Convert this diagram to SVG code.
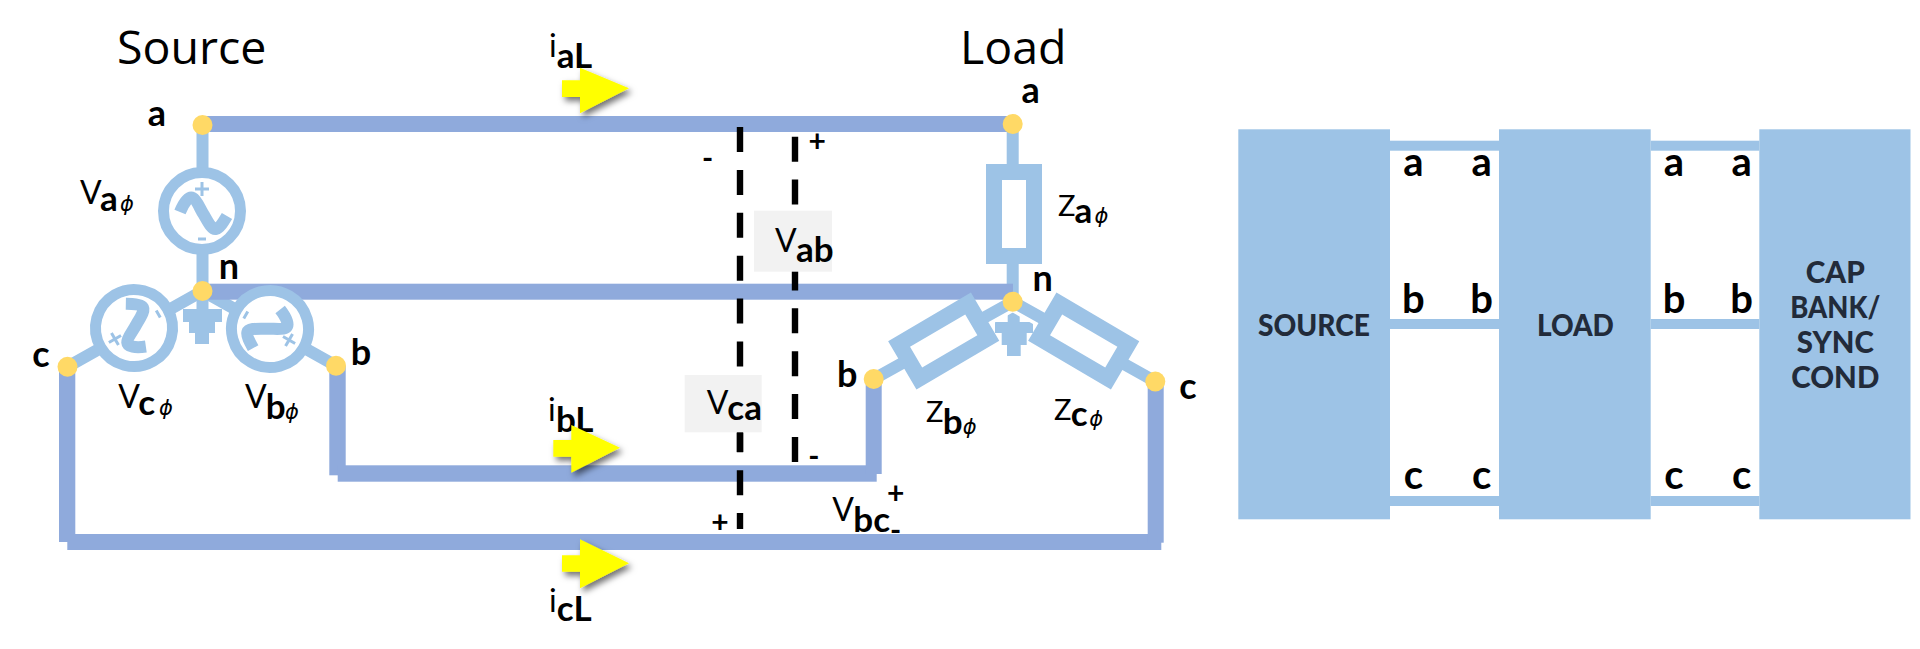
<svg xmlns="http://www.w3.org/2000/svg" width="1920" height="649" viewBox="0 0 1920 649">
<style>
.wire{fill:#8faadc}
.stub{stroke:#9dc3e6;stroke-width:12;fill:none}
.ring{fill:#fff;stroke:#9dc3e6;stroke-width:11}
.res{fill:#fff;stroke:#9dc3e6;stroke-width:16}
.lb{fill:#9dc3e6}
.dot{fill:#ffd966}
.dash{stroke:#000;stroke-width:6.4;stroke-dasharray:25 17.9;fill:none}
.wave{fill:none;stroke:#9dc3e6;stroke-width:12}
.sign{fill:none;stroke:#9dc3e6;stroke-width:3}
.box{fill:#f2f2f2}
text{font-family:Lato,"Liberation Sans",sans-serif;fill:#000;font-weight:700}
.big{font-family:"Open Sans","Liberation Sans",sans-serif;font-size:46.500px;font-weight:400}
.l32{font-size:36px}
.l36{font-size:40px}
.m{text-anchor:middle}
.v{font-size:32px;font-weight:400}
.z{font-size:29px;font-weight:400}
.s{font-size:35px}
.ph{font-family:"DejaVu Sans",sans-serif;font-size:21px;font-style:italic;font-weight:400}
.blk{font-size:31px;fill:#222b3a;text-anchor:middle;font-weight:900}
.pm{font-size:30px;text-anchor:middle}
.arrow{fill:#ffff00;filter:url(#sh)}
</style>
<defs>
<filter id="sh" x="-30%" y="-30%" width="170%" height="170%"><feDropShadow dx="3" dy="4" stdDeviation="3" flood-color="#000" flood-opacity=".55"/></filter>
<g id="src"><circle class="ring" r="38.5"/><path class="wave" d="M-22 1C-18-9-13-15-9-13C-5-11-2-2 2 4C6 11 10 19 14 18C18 17 22 10 25 5"/><path class="sign" d="M-7-22H7M0-29V-15M-4 28H4"/></g>
</defs>

<g id="load-ground"><path class="lb" d="M995 322H1033V333H1026.700V345H1020.700V356H1007V345H1001.700V333H995Z"/><path d="M1013.700 300V322" class="stub"/></g>

<g id="connectors">
<path class="stub" d="M202.500 125V291M202.500 291L67.500 366.700M202.500 291L336 365.700M1012.700 124V301.700"/>
<path d="M1012.700 301.700L873.700 379M1012.700 301.700L1155.300 381.500" fill="none" stroke="#fff" stroke-width="19"/>
<path class="stub" d="M1012.700 301.700L873.700 379M1012.700 301.700L1155.300 381.500"/>
<rect class="wire" x="202" y="116" width="811" height="16"/>
<rect class="wire" x="202" y="283.700" width="811" height="16"/>
<rect class="wire" x="329.300" y="366" width="16.400" height="109.300"/>
<rect class="wire" x="337.700" y="465.300" width="539" height="16.400"/>
<rect class="wire" x="865.700" y="380" width="16" height="94"/>
<rect class="wire" x="59" y="367" width="16.300" height="175"/>
<rect class="wire" x="67.300" y="534" width="1094" height="16"/>
<rect class="wire" x="1147.700" y="382" width="16" height="160.700"/>
<path class="dash" d="M740 127V529"/>
<path class="dash" d="M795 136.700V462"/>
<rect class="lb" x="1390" y="140.700" width="109" height="10"/>
<rect class="lb" x="1390" y="319" width="109" height="10"/>
<rect class="lb" x="1390" y="496" width="109" height="10"/>
<rect class="lb" x="1650.700" y="140.700" width="108.600" height="10"/>
<rect class="lb" x="1650.700" y="319" width="108.600" height="10"/>
<rect class="lb" x="1650.700" y="496" width="108.600" height="10"/>
</g>

<g id="source-a"><use href="#src" x="202" y="211"/></g>
<g id="source-b"><use href="#src" transform="translate(270 329) rotate(120)"/></g>
<g id="source-c"><use href="#src" transform="translate(134 328) rotate(-120)"/></g>
<g id="source-ground"><path class="stub" d="M202.500 291V310"/><path class="lb" d="M183 309H222V322H215V333H209V344H195V333H189V322H183Z"/></g>
<g id="load-a"><rect class="res" x="994" y="172" width="40" height="84"/></g>
<g id="load-b"><rect class="res" x="-40" y="-20" width="80" height="40" transform="translate(943.700 341) rotate(-30.400)"/></g>
<g id="load-c"><rect class="res" x="-40" y="-20" width="80" height="40" transform="translate(1083.700 341) rotate(30.400)"/></g>

<g id="terminals">
<circle class="dot" cx="202.500" cy="125" r="10"/>
<circle class="dot" cx="202.500" cy="291" r="10"/>
<circle class="dot" cx="67.500" cy="366.700" r="10"/>
<circle class="dot" cx="336" cy="365.700" r="10"/>
<circle class="dot" cx="1012.700" cy="124" r="10"/>
<circle class="dot" cx="1012.700" cy="301.700" r="10"/>
<circle class="dot" cx="873.700" cy="379" r="10"/>
<circle class="dot" cx="1155.300" cy="381.500" r="10"/>
</g>

<g id="voltage-boxes">
<rect class="box" x="754" y="210.700" width="78" height="61"/>
<rect class="box" x="684.700" y="375" width="77" height="57.300"/>
<rect x="736.800" y="433" width="6.400" height="19"/>
</g>

<g id="labels">
<text class="big" x="117" y="63.500">Source</text>
<text class="big" x="960" y="63.500">Load</text>
<text class="l32 m" x="157" y="126">a</text>
<text class="l32 m" x="229" y="279">n</text>
<text class="l32 m" x="41" y="366.700">c</text>
<text class="l32 m" x="361" y="365">b</text>
<text class="l32 m" x="1030.700" y="103.300">a</text>
<text class="l32 m" x="1042.700" y="290.700">n</text>
<text class="l32 m" x="847.300" y="387.300">b</text>
<text class="l32 m" x="1188" y="399.300">c</text>

<text><tspan class="v" x="80" y="204">V</tspan><tspan class="s" x="100" y="210.700">a</tspan><tspan class="ph" x="120" y="210.700">ϕ</tspan></text>
<text><tspan class="v" x="118.300" y="407.700">V</tspan><tspan class="s" x="138.300" y="414.700">c</tspan><tspan class="ph" x="159" y="414.700">ϕ</tspan></text>
<text><tspan class="v" x="245" y="408">V</tspan><tspan class="s" x="265.700" y="419.300">b</tspan><tspan class="ph" x="285" y="419.300">ϕ</tspan></text>
<text><tspan class="z" x="1058" y="216">Z</tspan><tspan class="s" x="1074.500" y="223.300">a</tspan><tspan class="ph" x="1094.500" y="223.300">ϕ</tspan></text>
<text><tspan class="z" x="926" y="421.700">Z</tspan><tspan class="s" x="942.700" y="434">b</tspan><tspan class="ph" x="962.700" y="434">ϕ</tspan></text>
<text><tspan class="z" x="1054" y="420">Z</tspan><tspan class="s" x="1070.700" y="426">c</tspan><tspan class="ph" x="1089.300" y="426">ϕ</tspan></text>

<text><tspan class="v" x="549" y="57.300">i</tspan><tspan class="s" x="556.700" y="67.700">aL</tspan></text>
<text><tspan class="v" x="548" y="420.700">i</tspan><tspan class="s" x="556" y="431.700">bL</tspan></text>
<text><tspan class="v" x="549" y="611.700">i</tspan><tspan class="s" x="556.700" y="621">cL</tspan></text>

<text><tspan class="v" x="775" y="251.700">V</tspan><tspan class="s" x="796" y="261.700">ab</tspan></text>
<text><tspan class="v" x="706.700" y="414">V</tspan><tspan class="s" x="727.300" y="420">ca</tspan></text>
<text><tspan class="v" x="832.300" y="521">V</tspan><tspan class="s" x="853.300" y="532.300">bc</tspan></text>

<text class="pm" x="817.300" y="151.500">+</text>
<text class="pm" x="707.700" y="169">-</text>
<text class="pm" x="720" y="532.500">+</text>
<text class="pm" x="813.800" y="467">-</text>
<text class="pm" x="895.700" y="503.500">+</text>
<text class="pm" x="895.500" y="541">-</text>
</g>

<g id="current-arrows">
<path class="arrow" d="M562 80.300H580V67.700L629 88.300L580 113.300V97H562Z"/>
<path class="arrow" d="M553.300 440H571.300V425L620 447.700L571.300 472.700V456.700H553.300Z"/>
<path class="arrow" d="M562 555.300H580V539.300L629 563.300L580 588.300V571.700H562Z"/>
</g>

<g id="block-source"><rect class="lb" x="1238.300" y="129.300" width="151.700" height="390"/><text class="blk" x="1314" y="336" textLength="112" lengthAdjust="spacingAndGlyphs">SOURCE</text></g>
<g id="block-load"><rect class="lb" x="1499" y="129.300" width="151.700" height="390"/><text class="blk" x="1575.400" y="336" textLength="77" lengthAdjust="spacingAndGlyphs">LOAD</text></g>
<g id="block-cap"><rect class="lb" x="1759.300" y="129.300" width="151.200" height="390"/>
<text class="blk" x="1835.300" y="283.300" textLength="59" lengthAdjust="spacingAndGlyphs">CAP</text><text class="blk" x="1835.300" y="318" textLength="90" lengthAdjust="spacingAndGlyphs">BANK/</text><text class="blk" x="1835.300" y="353.300" textLength="77" lengthAdjust="spacingAndGlyphs">SYNC</text><text class="blk" x="1835.300" y="388.300" textLength="88" lengthAdjust="spacingAndGlyphs">COND</text></g>

<g id="port-labels">
<text class="l36 m" x="1413.300" y="176">a</text><text class="l36 m" x="1481.700" y="176">a</text>
<text class="l36 m" x="1413.300" y="312.700">b</text><text class="l36 m" x="1481.700" y="312.700">b</text>
<text class="l36 m" x="1413.300" y="489.300">c</text><text class="l36 m" x="1481.700" y="489.300">c</text>
<text class="l36 m" x="1674" y="176">a</text><text class="l36 m" x="1741.700" y="176">a</text>
<text class="l36 m" x="1674" y="312.700">b</text><text class="l36 m" x="1741.700" y="312.700">b</text>
<text class="l36 m" x="1674" y="489.300">c</text><text class="l36 m" x="1741.700" y="489.300">c</text>
</g>
</svg>
